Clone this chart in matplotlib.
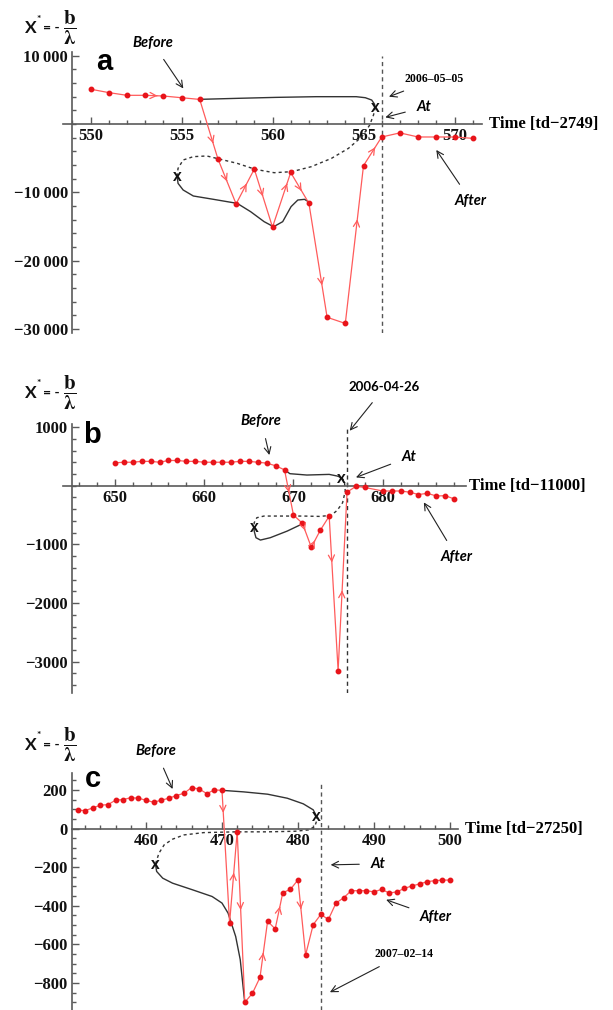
import matplotlib
matplotlib.use('Agg')
import matplotlib.pyplot as plt
from matplotlib.ticker import FixedLocator, FixedFormatter, MultipleLocator

plt.rcParams['mathtext.fontset'] = 'stix'
plt.rcParams['font.family'] = ['Liberation Serif', 'DejaVu Serif']
plt.rcParams['font.weight'] = 'bold'

# ---------------- data : panel a ----------------
a_x = list(range(550, 572))
a_y = [5100, 4600, 4200, 4200, 4100, 3850, 3600, -5100, -11700, -6600, -15100,
       -7100, -11600, -28300, -29200, -6100, -1900, -1300, -1900, -1900, -1900, -2100]
a_arrows = [(3, 0.68), (6, 0.74), (7, 0.5), (8, 0.58), (9, 0.47), (10, 0.8),
            (11, 0.6), (12, 0.72), (14, 0.66), (15, 0.64)]
a_solid1_x = [556.0, 558.1, 560.2, 562.4, 564.6, 565.1, 565.45, 565.6, 565.65]
a_solid1_y = [3610, 3760, 3900, 4000, 4000, 3850, 3510, 2930, 2440]
a_dot_x = [565.65, 565.55, 565.34, 564.91, 564.17, 563.24, 562.13, 561.06, 560.09,
           559.06, 558.06, 557.07, 556.39, 555.65, 555.09, 554.81, 554.76]
a_dot_y = [2440, 1320, -150, -1860, -3570, -5030, -6250, -6980, -7130,
           -6640, -5760, -5120, -4680, -4780, -5270, -6490, -7610]
a_solid2_x = [554.76, 554.81, 555.09, 555.65, 556.76, 558.06, 558.8, 559.54, 560.06,
              560.56, 561.02, 561.39, 561.76, 562.06]
a_solid2_y = [-7610, -8690, -9660, -10540, -11030, -11620, -12840, -14300, -15040,
              -14300, -12100, -11130, -11030, -11520]
a_xticks = [550, 555, 560, 565, 570]
a_yticks = [10000, -10000, -20000, -30000]
a_ylabels = ['10\u2009000', '\u221210\u2009000', '\u221220\u2009000', '\u221230\u2009000']
a_event = 566
a_event_span = (10000, -30600)

# ---------------- data : panel b ----------------
b_x = list(range(650, 679)) + list(range(680, 689))
b_y = [390, 400, 400, 415, 415, 400, 430, 430, 415, 415, 400, 400, 400, 400, 415,
       415, 400, 385, 340, 270, -500, -640, -1050, -760, -520, -3150, -110, -10, -30,
       -90, -90, -90, -110, -150, -130, -175, -170, -225]
b_arrows = [(19, 0.5), (21, 0.3), (22, 0.4), (24, 0.3), (25, 0.45)]
b_solid1_x = [669.0, 669.6, 671.5, 674.0, 674.9, 675.4]
b_solid1_y = [270, 205, 182, 193, 165, 136]
b_dot_x = [675.4, 675.7, 675.8, 675.5, 674.9, 674.2, 672.9, 671.1, 669.3, 666.7, 665.9, 665.6, 665.6]
b_dot_y = [136, 80, -91, -290, -420, -506, -523, -517, -517, -517, -545, -630, -705]
b_solid2_x = [665.6, 665.6, 665.8, 666.3, 667.4, 669.3, 671.0]
b_solid2_y = [-705, -773, -886, -926, -886, -773, -650]
b_xticks = [650, 660, 670, 680]
b_yticks = [1000, -1000, -2000, -3000]
b_ylabels = ['1000', '\u22121000', '\u22122000', '\u22123000']
b_event = 676
b_event_span = (980, -3530)

# ---------------- data : panel c ----------------
c_x = list(range(451, 501))
c_y = [95, 93, 107, 121, 124, 147, 150, 160, 157, 147, 136, 147, 157, 171, 183, 212,
       205, 181, 200, 198, -489, -16, -900, -854, -771, -480, -520, -332, -315, -266,
       -655, -498, -445, -471, -386, -359, -322, -322, -322, -328, -315, -334, -328,
       -310, -297, -287, -275, -270, -267, -267]
c_arrows = [(19, 0.17), (20, 0.55), (21, 0.46), (24, 0.44), (26, 0.62), (29, 0.39)]
c_solid1_x = [470.0, 472.85, 476.0, 478.6, 480.7, 482.0, 482.4]
c_solid1_y = [198, 190, 178, 157, 128, 97, 67]
c_dot_x = [482.4, 482.5, 482.2, 481.4, 479.6, 476.0, 471.8, 467.6, 465.0, 463.5, 462.4, 461.7, 461.25]
c_dot_y = [67, 45, 10, -7, -14, -17, -17, -21, -33, -55, -84, -128, -184]
c_solid2_x = [461.25, 461.4, 462.2, 463.5, 466.1, 468.7, 470.0, 470.8, 471.8, 472.4, 473.0]
c_solid2_y = [-184, -222, -257, -283, -317, -352, -386, -438, -559, -679, -903]
c_xticks = [460, 470, 480, 490, 500]
c_yticks = [200, 0, -200, -400, -600, -800]
c_ylabels = ['200', '0', '\u2212200', '\u2212400', '\u2212600', '\u2212800']
c_event = 483
c_event_span = (235, -940)

RED_LINE = '#ff5b5b'
RED_DOT = '#e8141a'
AX_COL = '#5a5a5a'
SANS_IT = dict(family='Lato', style='italic', weight='bold')

fig = plt.figure(figsize=(6.13, 10.10), dpi=100)


def make_axes(rect, xlim, ylim, yaxis_x, xticks, xminor, yticks, ylabels, yminor):
    ax = fig.add_axes(rect)
    ax.set_xlim(*xlim)
    ax.set_ylim(*ylim)
    for s in ('top', 'right'):
        ax.spines[s].set_visible(False)
    ax.spines['left'].set_position(('data', yaxis_x))
    ax.spines['bottom'].set_position(('data', 0))
    for s in ('left', 'bottom'):
        ax.spines[s].set_color(AX_COL)
        ax.spines[s].set_linewidth(1.2)
    ax.xaxis.set_major_locator(FixedLocator(xticks))
    ax.xaxis.set_minor_locator(MultipleLocator(xminor))
    ax.yaxis.set_major_locator(FixedLocator(yticks))
    ax.yaxis.set_major_formatter(FixedFormatter(ylabels))
    ax.yaxis.set_minor_locator(MultipleLocator(yminor))
    ax.tick_params(which='both', direction='in', color=AX_COL, width=1.0)
    ax.tick_params(which='major', length=5, labelsize=12, labelcolor='#111111', pad=3)
    ax.tick_params(which='minor', length=3)
    for lab in ax.get_xticklabels() + ax.get_yticklabels():
        lab.set_fontweight('bold')
    ax.patch.set_alpha(0)
    return ax


def draw_series(ax, xs, ys, arrows):
    ax.plot(xs, ys, color=RED_LINE, lw=0.9, zorder=3)
    ax.plot(xs, ys, 'o', color=RED_DOT, ms=3.2, zorder=4)
    for i, t in arrows:
        x0, y0 = xs[i], ys[i]
        x1, y1 = xs[i + 1], ys[i + 1]
        px, py = x0 + t * (x1 - x0), y0 + t * (y1 - y0)
        qx, qy = x0 + (t - 0.02) * (x1 - x0), y0 + (t - 0.02) * (y1 - y0)
        ax.annotate('', xy=(px, py), xytext=(qx, qy),
                    arrowprops=dict(arrowstyle='->', color=RED_LINE, lw=0.9,
                                    mutation_scale=11, shrinkA=0, shrinkB=0), zorder=4)


def draw_traj(ax, s1x, s1y, dx, dy, s2x, s2y):
    ax.plot(s1x, s1y, color='#333333', lw=1.0, zorder=2)
    ax.plot(dx, dy, color='#333333', lw=1.0, ls=(0, (2.2, 2.2)), zorder=2)
    ax.plot(s2x, s2y, color='#333333', lw=1.0, zorder=2)
    for px, py in ((dx[0], dy[0]), (dx[-1], dy[-1])):
        ax.text(px, py, 'x', ha='center', va='center', fontsize=12, color='#111111',
                family='Lato', weight='bold', zorder=5)


def note(ax, text, xy, xytext, **kw):
    ax.annotate(text, xy=xy, xytext=xytext, ha='center', va='center',
                arrowprops=dict(arrowstyle='->', color='#222222', lw=0.8,
                                shrinkA=6, shrinkB=0, mutation_scale=12),
                annotation_clip=False, **kw)


def ylabel(y_px):
    yf = 1 - y_px / 1010
    fig.text(25 / 613, yf, 'X', family='Lato', weight='bold', fontsize=12.5,
             ha='left', va='center', color='#111111')
    fig.text(36.5 / 613, yf + 9 / 1010, '*', family='Lato', weight='bold', fontsize=7.5,
             ha='left', va='center', color='#111111')
    fig.text(43 / 613, yf, '= -', family='Lato', weight='bold', fontsize=10,
             ha='left', va='center', color='#111111')
    fig.text(70 / 613, yf, r'$\dfrac{\mathbf{b}}{\boldsymbol{\lambda}}$',
             ha='center', va='center', fontsize=15, color='#111111')


# ---------------- panel a ----------------
axa = make_axes([63.2 / 613, 0.6703, 418.6 / 613, 0.2786], (548.5, 571.5), (-30600, 10600),
                549.0, a_xticks, 1, a_yticks, a_ylabels, 2000)
axa.vlines(a_event, a_event_span[1], a_event_span[0], colors='#555555', lw=1.0,
           linestyles=(0, (3, 2.5)), zorder=1)
draw_traj(axa, a_solid1_x, a_solid1_y, a_dot_x, a_dot_y, a_solid2_x, a_solid2_y)
draw_series(axa, a_x, a_y, a_arrows)
axa.text(550.3, 9100, 'a', family='Liberation Sans', weight='bold', fontsize=21,
         ha='left', va='center')
axa.text(571.9, 0, 'Time [td\u22122749]', ha='left', va='center', fontsize=12,
         weight='bold', clip_on=False)
note(axa, 'Before', (555.1, 5200), (553.4, 11900), fontsize=10.5, **SANS_IT)
note(axa, '2006\u201305\u201305', (566.4, 4000), (568.9, 6540), fontsize=8.5,
     family='Liberation Serif', weight='bold')
note(axa, 'At', (566.2, 975), (568.3, 2440), fontsize=10.5, **SANS_IT)
note(axa, 'After', (569.0, -3800), (570.9, -11270), fontsize=10.5, **SANS_IT)
ylabel(28)

# ---------------- panel b ----------------
axb = make_axes([63.1 / 613, 0.3140, 402.7 / 613, 0.2661], (644.2, 689.3), (-3530, 1050),
                645.2, b_xticks, 2, b_yticks, b_ylabels, 200)
axb.vlines(b_event, b_event_span[1], b_event_span[0], colors='#333333', lw=1.0,
           linestyles=(0, (3, 2.5)), zorder=1)
draw_traj(axb, b_solid1_x, b_solid1_y, b_dot_x, b_dot_y, b_solid2_x, b_solid2_y)
draw_series(axb, b_x, b_y, b_arrows)
axb.text(646.4, 870, 'b', family='Liberation Sans', weight='bold', fontsize=21,
         ha='left', va='center')
axb.text(689.65, 0, 'Time [td\u221211000]', ha='left', va='center', fontsize=12,
         weight='bold', clip_on=False)
note(axb, 'Before', (667.3, 523), (666.4, 1108), fontsize=10.5, **SANS_IT)
note(axb, '2006-04-26', (676.3, 937), (680.2, 1676), fontsize=9.5,
     family='Lato', weight='bold')
note(axb, 'At', (677.0, 142), (682.9, 483), fontsize=10.5, **SANS_IT)
note(axb, 'After', (684.6, -284), (688.3, -1222), fontsize=10.5, **SANS_IT)
ylabel(393)

# ---------------- panel c ----------------
axc = make_axes([71.5 / 613, 0.0, 386.1 / 613, 0.2345], (450.2, 501.0), (-940, 287),
                450.2, c_xticks, 2, c_yticks, c_ylabels, 50)
axc.vlines(c_event, c_event_span[1], c_event_span[0], colors='#555555', lw=1.0,
           linestyles=(0, (3, 2.5)), zorder=1)
draw_traj(axc, c_solid1_x, c_solid1_y, c_dot_x, c_dot_y, c_solid2_x, c_solid2_y)
draw_series(axc, c_x, c_y, c_arrows)
axc.text(452.0, 255, 'c', family='Liberation Sans', weight='bold', fontsize=21,
         ha='left', va='center')
axc.text(502.0, 0, 'Time [td\u221227250]', ha='left', va='center', fontsize=12,
         weight='bold', clip_on=False)
note(axc, 'Before', (463.5, 205), (461.3, 403), fontsize=10.5, **SANS_IT)
note(axc, 'At', (484.3, -188), (490.5, -183), fontsize=10.5, **SANS_IT)
note(axc, 'After', (491.6, -369), (498.1, -459), fontsize=10.5, **SANS_IT)
note(axc, '2007\u201302\u201314', (484.2, -848), (493.9, -650), fontsize=8.5,
     family='Liberation Serif', weight='bold')
ylabel(745)

fig.savefig('out.png', dpi=100)
